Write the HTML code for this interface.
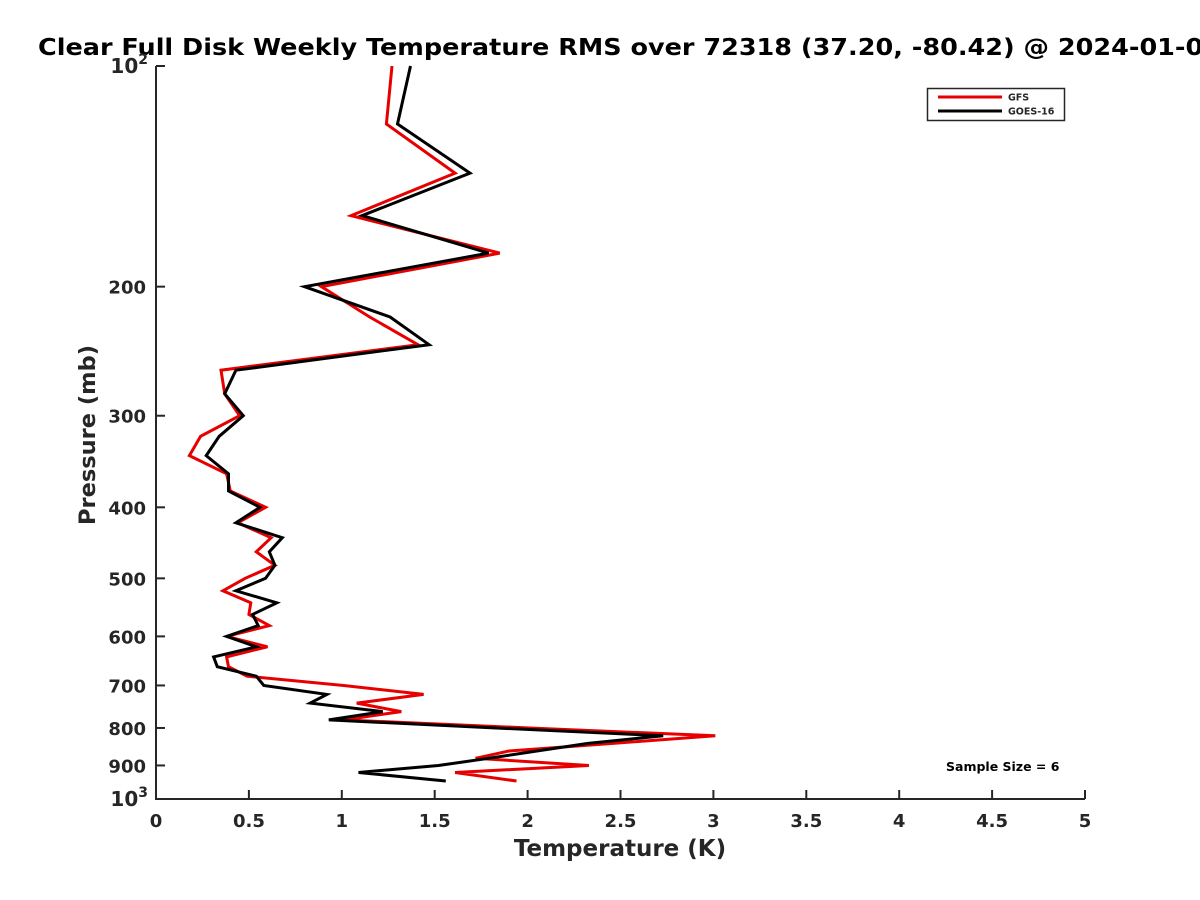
<!DOCTYPE html>
<html><head><meta charset="utf-8"><style>
html,body{margin:0;padding:0;background:#fff;}
svg{display:block;font-family:"DejaVu Sans","Liberation Sans",sans-serif;font-weight:bold;}
</style></head><body>
<svg id="chart" width="1200" height="900" viewBox="0 0 1200 900" xmlns="http://www.w3.org/2000/svg">
<rect width="1200" height="900" fill="#fff"/>
<text x="38" y="55" font-size="23" textLength="1183" lengthAdjust="spacingAndGlyphs" fill="#000">Clear Full Disk Weekly Temperature RMS over 72318 (37.20, -80.42) @ 2024-01-09</text>
<g id="axes"></g>
<g id="series"></g>
<g>
<rect x="927.5" y="88.5" width="137" height="32" fill="#fff" stroke="#262626" stroke-width="1.5"/>
<line x1="938" y1="97" x2="1002" y2="97" stroke="#e60000" stroke-width="3"/>
<text x="1008" y="100.5" font-size="9.5" fill="#262626">GFS</text>
<line x1="938" y1="111" x2="1002" y2="111" stroke="#000" stroke-width="3"/>
<text x="1008" y="114.5" font-size="9.5" fill="#262626">GOES-16</text>
</g>
<text x="946" y="771" font-size="12.5" fill="#000">Sample Size = 6</text>
<text x="620" y="856" font-size="23" text-anchor="middle" fill="#262626">Temperature (K)</text>
<text transform="translate(95,435) rotate(-90)" font-size="22.5" text-anchor="middle" fill="#262626">Pressure (mb)</text>
</svg>
<script>
const pressureLevels = [100,120,140,160,180,200,220,240,260,280,300,320,340,360,380,400,420,440,460,480,500,520,540,560,580,600,620,640,660,680,700,720,740,760,780,800,820,840,860,880,900,920,945];
const gfsValues = [1.27,1.24,1.61,1.05,1.85,0.89,1.15,1.41,0.35,0.37,0.45,0.24,0.18,0.38,0.40,0.59,0.44,0.62,0.54,0.64,0.48,0.36,0.51,0.50,0.61,0.38,0.60,0.38,0.39,0.49,1.01,1.44,1.08,1.32,1.01,2.01,3.01,2.45,1.90,1.72,2.33,1.61,1.94];
const goesValues = [1.37,1.30,1.69,1.11,1.79,0.80,1.26,1.47,0.43,0.37,0.47,0.34,0.27,0.39,0.39,0.56,0.43,0.68,0.61,0.64,0.59,0.43,0.65,0.52,0.55,0.38,0.54,0.31,0.33,0.54,0.58,0.92,0.83,1.22,0.93,1.83,2.73,2.32,2.05,1.79,1.52,1.09,1.56];
const xTicks = [0,0.5,1,1.5,2,2.5,3,3.5,4,4.5,5];
const xTickLabels = ["0","0.5","1","1.5","2","2.5","3","3.5","4","4.5","5"];
const yTicks = [100,200,300,400,500,600,700,800,900,1000];
const yTickLabels = ["10²","200","300","400","500","600","700","800","900","10³"];

const NS = "http://www.w3.org/2000/svg";
const X0 = 156, X1 = 1085, Y0 = 66, Y1 = 799;
function xScale(t){ return X0 + (t - 0) / 5 * (X1 - X0); }
function yScale(p){ return Y0 + (Math.log10(p) - 2) * (Y1 - Y0); }
function mk(tag, attrs){ const e = document.createElementNS(NS, tag); for (const k in attrs) e.setAttribute(k, attrs[k]); return e; }

const axes = document.getElementById('axes');
const axisLines = mk('path', {d:`M${X0} ${Y0}V${Y1}H${X1}`, fill:'none', stroke:'#262626', 'stroke-width':2});


axes.appendChild(axisLines);

xTicks.forEach((t, i) => {
  const x = xScale(t);
  const tk = mk('line', {x1:x, y1:Y1, x2:x, y2:Y1-9, stroke:'#262626', 'stroke-width':2});
  
  
  axes.appendChild(tk);
  const lb = mk('text', {x:x, y:Y1+28, 'font-size':18, 'text-anchor':'middle', fill:'#262626'});
  
  
  lb.textContent = xTickLabels[i];
  axes.appendChild(lb);
});
yTicks.forEach((p, i) => {
  const y = yScale(p);
  const tk = mk('line', {x1:X0, y1:y, x2:X0+9, y2:y, stroke:'#262626', 'stroke-width':2});
  
  
  axes.appendChild(tk);
  const lb = mk('text', {x:X0-10, y:y+7, 'font-size':18, 'text-anchor':'end', fill:'#262626'});
  
  
  const s = yTickLabels[i];
  if (s.startsWith('10') && s.length === 3) {
    lb.textContent = '10';
    lb.setAttribute('font-size', 20);
    const sup = mk('tspan', {dy:-9, 'font-size':14});
    sup.textContent = s[2] === '²' ? '2' : '3';
    lb.appendChild(sup);
    lb.setAttribute('x', X0-8);
  } else {
    lb.textContent = s;
  }
  axes.appendChild(lb);
});

const series = document.getElementById('series');
function drawLine(vals, color, name){
  const d = vals.map((v, i) => (i ? 'L' : 'M') + xScale(v).toFixed(1) + ' ' + yScale(pressureLevels[i]).toFixed(1)).join('');
  const p = mk('path', {d:d, fill:'none', stroke:color, 'stroke-width':3, 'stroke-linejoin':'miter'});
  
  
  series.appendChild(p);
}
drawLine(gfsValues, '#e60000', 'gfs-line');
drawLine(goesValues, '#000', 'goes16-line');
</script>
</body></html>
